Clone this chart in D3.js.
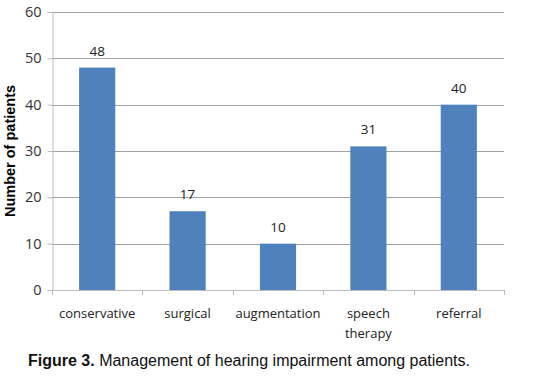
<!DOCTYPE html>
<html>
<head>
<meta charset="utf-8">
<script src="https://cdn.jsdelivr.net/npm/d3@7"></script>
<style>
  body { margin: 0; background: #fff; }
  text { font-family: "Open Sans", "DejaVu Sans", sans-serif; }
</style>
</head>
<body>
<svg id="chart" width="533" height="381"></svg>
<script>

  var categories = ['conservative', 'surgical', 'augmentation', 'speech therapy', 'referral'];
  var patients = [48, 17, 10, 31, 40];
  var yTicks = [0, 10, 20, 30, 40, 50, 60];

  var svg = d3.select('#chart');

  // plot edges (avoid window.top)
  var plotLeft = 52, plotRight = 504, plotTop = 12, plotBottom = 290;

  var x = d3.scaleBand()
    .domain(categories)
    .range([plotLeft, plotRight])
    .paddingInner(0.6)
    .paddingOuter(0.3);

  var y = d3.scaleLinear()
    .domain([0, 60])
    .range([plotBottom, plotTop]);

  // gridlines
  svg.append('g')
    .selectAll('line')
    .data(yTicks.slice(1))
    .enter()
    .append('line')
      .attr('x1', plotLeft)
      .attr('x2', plotRight)
      .attr('y1', function (d) { return Math.round(y(d)) + 0.5; })
      .attr('y2', function (d) { return Math.round(y(d)) + 0.5; })
      .attr('stroke', '#a0a0a0');

  // y axis
  var yAxis = svg.append('g')
    .attr('transform', 'translate(' + (plotLeft + 0.5) + ',0)')
    .call(d3.axisLeft(y).tickValues(yTicks).tickSize(5).tickPadding(6));
  yAxis.select('.domain').attr('stroke', '#bdbdbd');
  yAxis.selectAll('.tick line').attr('stroke', '#bdbdbd');
  yAxis.selectAll('.tick text')
    .attr('fill', '#333')
    .style('font-size', '14.5px')
    .style('font-family', '"Open Sans", sans-serif');

  // x axis line and category separators
  var xEdges = categories.map(function (c, i) {
    return plotLeft + i * x.step();
  }).concat([plotRight]);

  svg.append('line')
    .attr('x1', plotLeft).attr('x2', plotRight)
    .attr('y1', plotBottom + 0.5).attr('y2', plotBottom + 0.5)
    .attr('stroke', '#bdbdbd');

  svg.append('g')
    .selectAll('line')
    .data(xEdges)
    .enter()
    .append('line')
      .attr('x1', function (d) { return Math.round(d) + 0.5; })
      .attr('x2', function (d) { return Math.round(d) + 0.5; })
      .attr('y1', plotBottom)
      .attr('y2', plotBottom + 5)
      .attr('stroke', '#bdbdbd');

  // bars
  svg.append('g')
    .selectAll('rect')
    .data(patients)
    .enter()
    .append('rect')
      .attr('x', function (d, i) { return x(categories[i]); })
      .attr('y', function (d) { return y(d); })
      .attr('width', x.bandwidth())
      .attr('height', function (d) { return y(0) - y(d); })
      .attr('fill', '#4f81bd');

  // value labels
  svg.append('g')
    .selectAll('text')
    .data(patients)
    .enter()
    .append('text')
      .attr('x', function (d, i) { return x(categories[i]) + x.bandwidth() / 2; })
      .attr('y', function (d) { return y(d) - 12; })
      .attr('text-anchor', 'middle')
      .attr('fill', '#222')
      .style('font-size', '13.5px')
      .text(function (d) { return d; });

  // category labels (wrap "speech therapy")
  var catLabels = svg.append('g')
    .selectAll('text')
    .data(categories)
    .enter()
    .append('text')
      .attr('x', function (d) { return x(d) + x.bandwidth() / 2; })
      .attr('y', 318)
      .attr('text-anchor', 'middle')
      .attr('fill', '#222')
      .style('font-size', '13px');

  catLabels.each(function (d) {
    var words = d === 'speech therapy' ? d.split(' ') : [d];
    var t = d3.select(this);
    words.forEach(function (w, i) {
      t.append('tspan')
        .attr('x', t.attr('x'))
        .attr('dy', i === 0 ? 0 : 20)
        .text(w);
    });
  });

  // y axis title
  svg.append('text')
    .attr('transform', 'translate(15,' + ((plotTop + plotBottom) / 2) + ') rotate(-90)')
    .attr('text-anchor', 'middle')
    .attr('fill', '#000')
    .style('font-family', '"Liberation Sans", Arial, sans-serif')
    .style('font-weight', 'bold')
    .style('font-size', '14.5px')
    .text('Number of patients');

  // caption
  var caption = svg.append('text')
    .attr('x', 28)
    .attr('y', 366)
    .attr('fill', '#111')
    .style('font-family', '"Liberation Sans", Arial, sans-serif')
    .style('font-size', '16px');
  caption.append('tspan').style('font-weight', 'bold').text('Figure 3.');
  caption.append('tspan').text(' Management of hearing impairment among patients.');

</script>
</body>
</html>
